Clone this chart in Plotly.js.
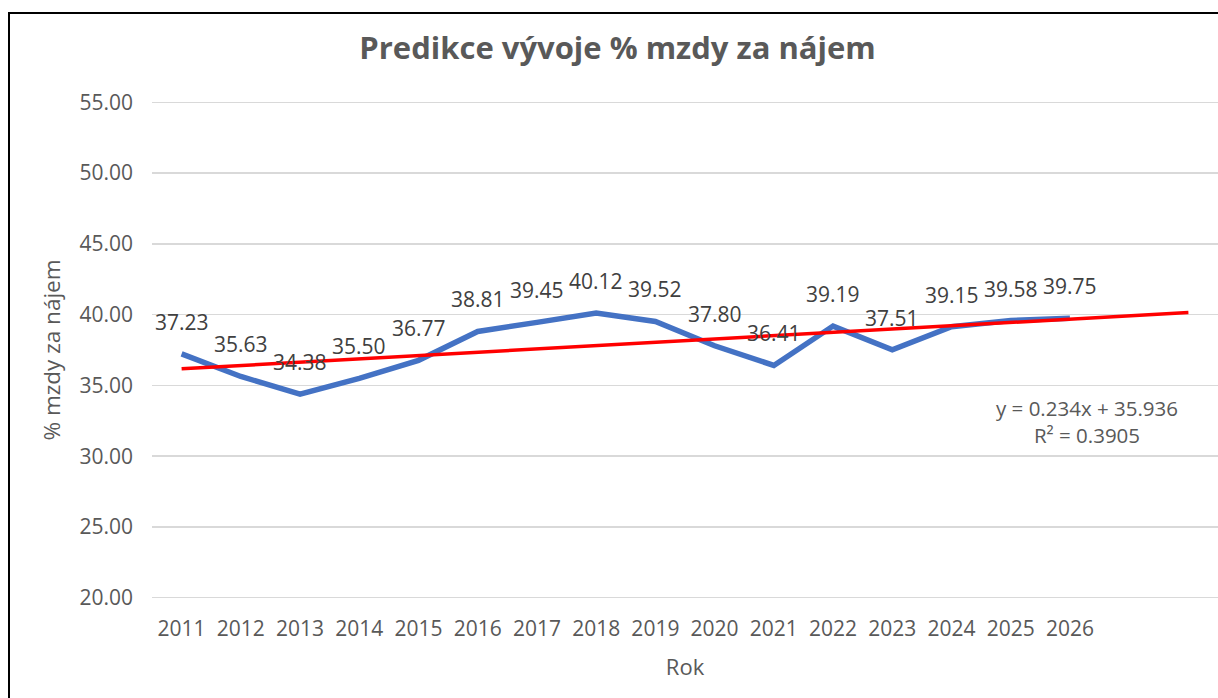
<!DOCTYPE html>
<html>
<head>
<meta charset="utf-8">
<script src="https://cdn.plot.ly/plotly-3.0.1.min.js"></script>
<style>
html,body{margin:0;padding:0;background:#fff;overflow:hidden;}
#wrap{position:relative;width:1218px;height:698px;}
#chart{position:absolute;left:0;top:0;width:1218px;height:698px;}
#frame{position:absolute;left:8px;top:12px;width:1300px;height:800px;border-left:2px solid #000;border-top:2px solid #000;pointer-events:none;}
</style>
</head>
<body>
<div id="wrap">
<div id="chart"></div>
<div id="frame"></div>
</div>
<script>
// Data
const years = [2011, 2012, 2013, 2014, 2015, 2016, 2017, 2018, 2019, 2020, 2021, 2022, 2023, 2024, 2025, 2026];
const values = [37.23, 35.63, 34.38, 35.50, 36.77, 38.81, 39.45, 40.12, 39.52, 37.80, 36.41, 39.19, 37.51, 39.15, 39.58, 39.75];
const tickLabels = ["2011","2012","2013","2014","2015","2016","2017","2018","2019","2020","2021","2022","2023","2024","2025","2026"];
const yMin = 20, yMax = 55;
// Linear trendline shown in the chart: y = 0.234x + 35.936 (x = period index 1..), forecast 2 periods forward
const trendSlope = 0.234;
const trendIntercept = 35.936;
const trendForward = 2;
const equationText = "y = 0.234x + 35.936<br>R² = 0.3905";

const trendX = [years[0], years[years.length - 1] + trendForward];
const trendY = trendX.map(x => trendSlope * (x - years[0] + 1) + trendIntercept);

const textCol = '#595959';
const font = 'Open Sans, Noto Sans, sans-serif';

const traces = [
  {
    x: years, y: values, type: 'scatter', mode: 'lines',
    line: {color: '#4472C4', width: 5.5}, hoverinfo: 'skip', showlegend: false
  },
  {
    x: trendX, y: trendY, type: 'scatter', mode: 'lines',
    line: {color: '#FF0000', width: 3.5}, hoverinfo: 'skip', showlegend: false
  }
];

const annotations = years.map((yr, i) => ({
  x: yr, y: values[i], xref: 'x', yref: 'y',
  text: values[i].toFixed(2), showarrow: false,
  yshift: 32, xanchor: 'center', yanchor: 'middle',
  font: {family: font, size: 21, color: '#404040'}
}));
annotations.push({
  x: 2026.28, y: 32.45, xref: 'x', yref: 'y',
  text: equationText, showarrow: false, align: 'center',
  xanchor: 'center', yanchor: 'middle',
  font: {family: font, size: 20.5, color: textCol}
});

// edge gridlines (Plotly omits gridlines on the plot-area boundary)
const shapes = [yMin, yMax].map(v => ({
  type: 'line', xref: 'paper', yref: 'y', x0: 0, x1: 1, y0: v, y1: v,
  line: {color: '#D9D9D9', width: 1.5}, layer: 'below'
}));

const layout = {
  width: 1218, height: 698,
  margin: {l: 152, r: 0, t: 102, b: 100},
  paper_bgcolor: '#fff', plot_bgcolor: '#fff',
  showlegend: false,
  title: {
    text: '<b>Predikce vývoje % mzdy za nájem</b>',
    x: 0.507, xref: 'container', xanchor: 'center',
    y: 1 - 48/698, yref: 'container', yanchor: 'middle',
    font: {family: font, size: 31, color: textCol}
  },
  xaxis: {
    range: [2010.5, 2028.5],
    tickmode: 'array', tickvals: years, ticktext: tickLabels,
    showgrid: false, zeroline: false, showline: false,
    ticks: '', ticklabelstandoff: 16,
    tickfont: {family: font, size: 21, color: textCol},
    title: {text: 'Rok', font: {family: font, size: 22, color: textCol}, standoff: 18},
    fixedrange: true
  },
  yaxis: {
    range: [yMin - 0.02, yMax + 0.02], tickmode: 'linear', tick0: yMin, dtick: 5,
    tickformat: '.2f',
    showgrid: true, gridcolor: '#D9D9D9', gridwidth: 1.5,
    zeroline: false, showline: false, ticks: '', ticklabelstandoff: 18,
    tickfont: {family: font, size: 21, color: textCol},
    title: {text: '% mzdy za nájem', font: {family: font, size: 22.5, color: textCol}, standoff: 12},
    fixedrange: true
  },
  shapes: shapes,
  annotations: annotations
};

Plotly.newPlot('chart', traces, layout, {displayModeBar: false, staticPlot: true});
</script>
</body>
</html>
